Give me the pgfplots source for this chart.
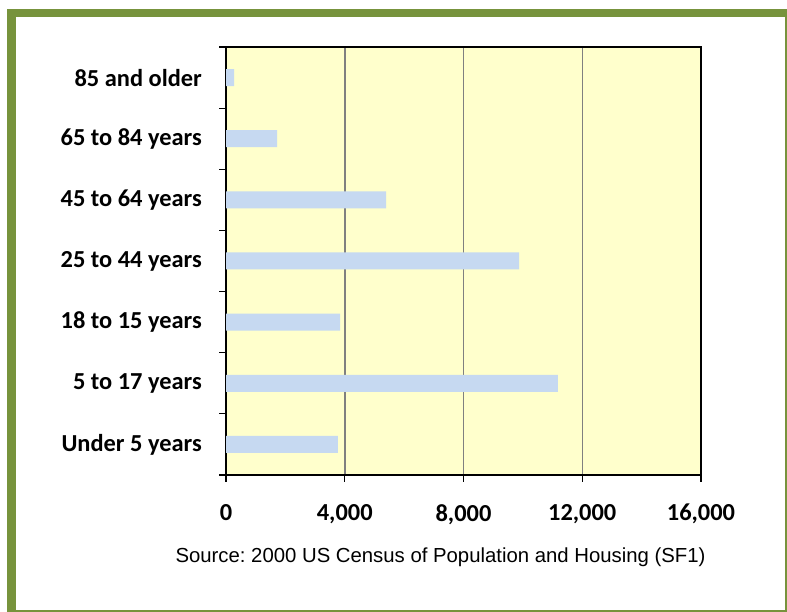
\documentclass[border=0pt]{standalone}
\usepackage{pgfplots}
\pgfplotsset{compat=1.18}
\usepackage{fontspec}
\setmainfont{Carlito}
\newfontfamily\arialfont{Liberation Sans}
\definecolor{framegreen}{HTML}{77933C}
\definecolor{plotbg}{HTML}{FFFFCC}
\definecolor{barblue}{HTML}{C6D9F1}
\definecolor{gridgray}{HTML}{808080}
\frenchspacing

\begin{document}
\begin{tikzpicture}[x=1bp,y=1bp]
\useasboundingbox (0,0) rectangle (787,612);
% green frame
\fill[framegreen] (7,0) rectangle (787,603);
\fill[white] (16,2) rectangle (785,595);

\begin{axis}[
  at={(226bp,137bp)}, anchor=south west,
  scale only axis, width=475bp, height=428bp,
  axis background/.style={fill=plotbg},
  xbar, bar width=17bp,
  xmin=0, xmax=16000, ymin=-0.5, ymax=6.5,
  scaled x ticks=false,
  xtick={0,4000,8000,12000,16000},
  minor xtick={0,4000,8000,12000,16000},
  ytick={0,...,6},
  minor ytick={-0.5,0.5,...,6.5},
  yticklabels={Under 5 years,5 to 17 years,18 to 15 years,25 to 44 years,45 to 64 years,65 to 84 years,85 and older},
  xtick pos=bottom, ytick pos=left,
  tick align=outside,
  major tick length=0pt, minor tick length=7bp,
  minor tick style={black, line width=1.2bp},
  xmajorgrids, grid style={gridgray, line width=1.5bp},
  axis line style={black, line width=1.5bp},
  ticklabel style={font=\fontsize{24.5}{28}\selectfont\bfseries},
  yticklabel style={inner sep=0pt, anchor=east, xshift=-24bp},
  xticklabel style={inner sep=0pt, anchor=north, yshift=-29bp},
  /pgf/number format/.cd, 1000 sep={,}, assume math mode=true,
]
\addplot[fill=barblue, draw=none] coordinates {
  (3770,0)
  (11180,1)
  (3840,2)
  (9870,3)
  (5390,4)
  (1720,5)
  (270,6)
};
\end{axis}

\node[font=\arialfont\fontsize{20.4}{24}\selectfont] at (440.5,55) {Source: 2000 US Census of Population and Housing (SF1)};
\end{tikzpicture}
\end{document}
